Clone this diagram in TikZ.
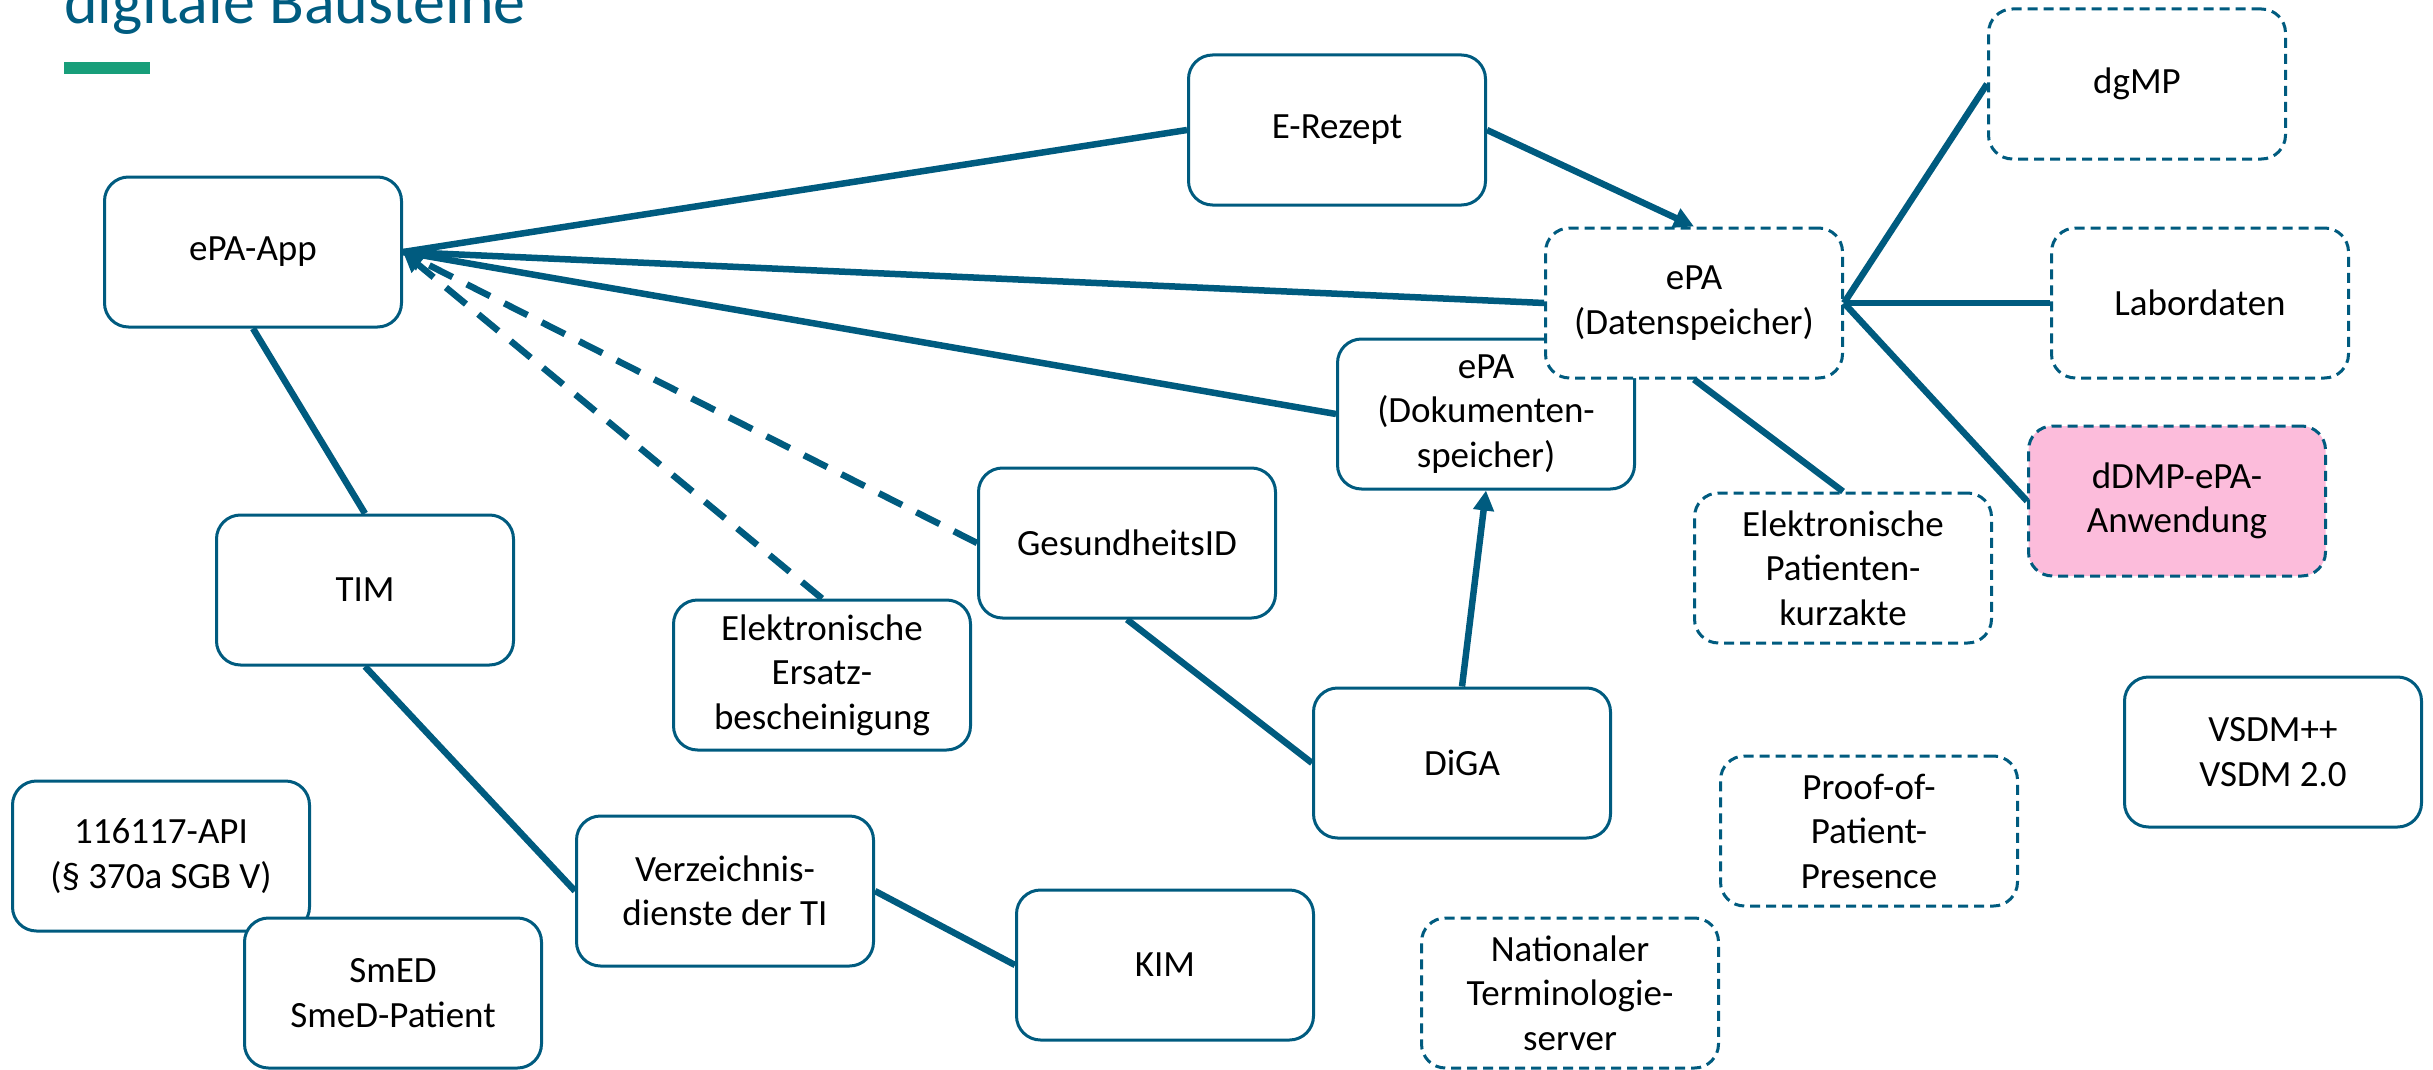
\documentclass[tikz,border=0pt]{standalone}
\usepackage{fontspec}
\setmainfont{Carlito}
\usetikzlibrary{arrows.meta}

\definecolor{linecol}{RGB}{0,91,127}
\definecolor{titlecol}{RGB}{0,92,128}
\definecolor{barcol}{RGB}{24,158,122}
\definecolor{pinkfill}{RGB}{252,188,219}

\tikzset{
  box/.style={draw=linecol, line width=3pt, rounded corners=24pt, fill=white,
    minimum width=297pt, minimum height=150pt, align=center, inner sep=0pt,
    font=\fontsize{37}{44.5}\selectfont},
  dbox/.style={box, dash pattern=on 10pt off 6pt},
  conn/.style={draw=linecol, line width=6.5pt},
  dconn/.style={conn, dash pattern=on 26pt off 16pt},
  tip/.style={-{Triangle[length=20pt,width=20pt]}},
}

\begin{document}
\begin{tikzpicture}[x=1pt,y=-1pt]
\useasboundingbox (0,0) rectangle (2433,1070);
\clip (0,0) rectangle (2433,1070);

% heading
\node[anchor=base west, inner sep=0pt, text=titlecol,
      font=\fontsize{64}{70}\selectfont] (title) at (64,24) {digitale Bausteine};
\fill[barcol] (64,62) rectangle (150,74);

% building blocks
\node[box]  (epaapp)  at (253,252)  {ePA-App};
\node[box]  (erezept) at (1337,130) {E-Rezept};
\node[box]  (dokusp)  at (1486,414) {ePA\\(Dokumenten-\\speicher)};
\node[dbox] (datensp) at (1694,303) {ePA\\(Datenspeicher)};
\node[dbox] (dgmp)    at (2137,84)  {dgMP};
\node[dbox] (labor)   at (2200,303) {Labordaten};
\node[dbox, fill=pinkfill] (ddmp) at (2177,501) {dDMP-ePA-\\Anwendung};
\node[dbox] (epk)     at (1843,568) {Elektronische\\Patienten-\\kurzakte};
\node[box]  (gesid)   at (1127,543) {GesundheitsID};
\node[box]  (tim)     at (365,590)  {TIM};
\node[box]  (ersatz)  at (822,675)  {Elektronische\\Ersatz-\\bescheinigung};
\node[box]  (diga)    at (1462,763) {DiGA};
\node[box]  (vsdm)    at (2273,752) {VSDM++\\VSDM 2.0};
\node[dbox] (popp)    at (1869,831) {Proof-of-\\Patient-\\Presence};
\node[box]  (api)     at (161,856)  {116117-API\\(§ 370a SGB V)};
\node[box]  (smed)    at (393,993)  {SmED\\SmeD-Patient};
\node[box]  (verz)    at (725,891)  {Verzeichnis-\\dienste der TI};
\node[box]  (kim)     at (1165,965) {KIM};
\node[dbox] (nts)     at (1570,993) {Nationaler\\Terminologie-\\server};

% connections
\draw[conn] (erezept.west) -- (epaapp.east);
\draw[conn] (datensp.west) -- (epaapp.east);
\draw[conn] (dokusp.west) -- (epaapp.east);
\draw[dconn, tip] (gesid.west) -- (epaapp.east);
\draw[dconn, tip] (ersatz.north) -- (epaapp.east);
\draw[conn] (epaapp.south) -- (tim.north);
\draw[conn] (tim.south) -- (verz.west);
\draw[conn] (verz.east) -- (kim.west);
\draw[conn] (gesid.south) -- (diga.west);
\draw[conn, tip] (diga.north) -- (dokusp.south);
\draw[conn, tip] (erezept.east) -- (datensp.north);
\draw[conn] (datensp.east) -- (dgmp.west);
\draw[conn] (datensp.east) -- (labor.west);
\draw[conn] (datensp.east) -- (ddmp.west);
\draw[conn] (datensp.south) -- (epk.north);
\end{tikzpicture}
\end{document}
